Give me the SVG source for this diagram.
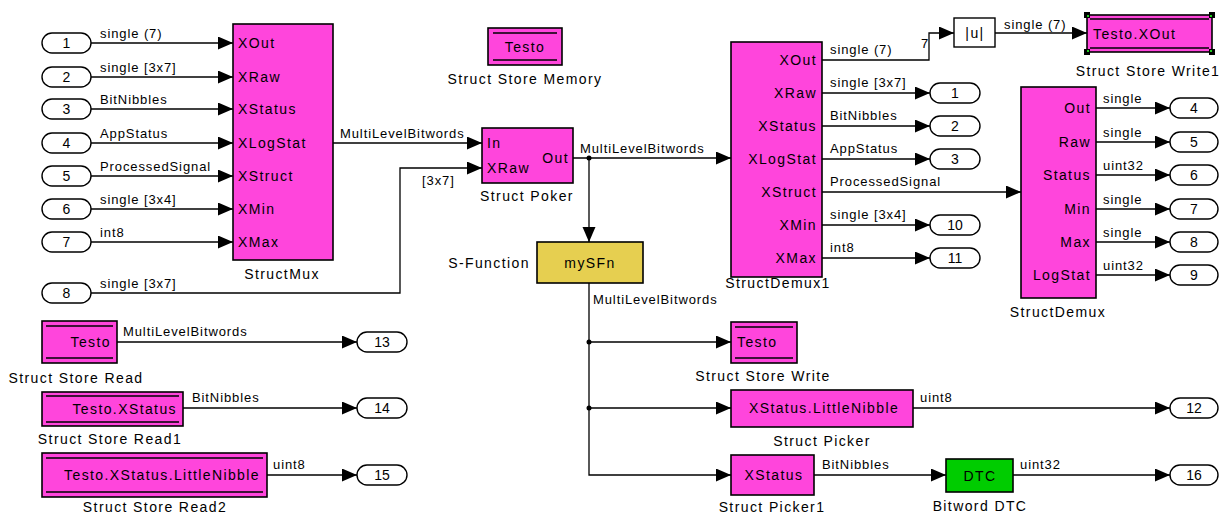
<svg xmlns="http://www.w3.org/2000/svg" width="1220" height="516" viewBox="0 0 1220 516">
<style>
.blk{fill:#ff45dc;stroke:#000;stroke-width:1.6}
.io{fill:#fff;stroke:#000;stroke-width:1.4}
.ln{fill:none;stroke:#000;stroke-width:1.3}
.in{stroke:#000;stroke-width:1.3}
text{font-family:"Liberation Sans",Arial,sans-serif;fill:#000}
.p{font-size:14px;letter-spacing:1.4px}
.l{font-size:14px;letter-spacing:1.4px;text-anchor:middle}
.s{font-size:13px;letter-spacing:0.9px}
.n{font-size:14px;text-anchor:middle}
.r{text-anchor:end}
.c{text-anchor:middle}
</style>
<defs>
<marker id="a" markerUnits="userSpaceOnUse" markerWidth="16" markerHeight="14" refX="15" refY="6.5" orient="auto"><path d="M0,0 L15,6.5 L0,13 z" fill="#000"/></marker>
</defs>

<g id="connectors">
<path class="ln" d="M91,43 H233" marker-end="url(#a)"/>
<path class="ln" d="M91,77 H233" marker-end="url(#a)"/>
<path class="ln" d="M91,109 H233" marker-end="url(#a)"/>
<path class="ln" d="M91,143 H233" marker-end="url(#a)"/>
<path class="ln" d="M91,176 H233" marker-end="url(#a)"/>
<path class="ln" d="M91,209 H233" marker-end="url(#a)"/>
<path class="ln" d="M91,242 H233" marker-end="url(#a)"/>
<path class="ln" d="M91,293 H400 V168 H482" marker-end="url(#a)"/>
<path class="ln" d="M333,143 H482" marker-end="url(#a)"/>
<path class="ln" d="M573,158 H731" marker-end="url(#a)"/>
<path class="ln" d="M589,158 V242" marker-end="url(#a)"/>
<path class="ln" d="M589,283 V475 H731" marker-end="url(#a)"/>
<path class="ln" d="M589,342 H731" marker-end="url(#a)"/>
<path class="ln" d="M589,408 H731" marker-end="url(#a)"/>
<circle cx="589" cy="158" r="2.5"/>
<circle cx="589" cy="342" r="2.5"/>
<circle cx="589" cy="408" r="2.5"/>
<path class="ln" d="M822,60 H929 V33 H954" marker-end="url(#a)"/>
<path class="ln" d="M995,33 H1087" marker-end="url(#a)"/>
<path class="ln" d="M822,93 H930" marker-end="url(#a)"/>
<path class="ln" d="M822,126 H930" marker-end="url(#a)"/>
<path class="ln" d="M822,159 H930" marker-end="url(#a)"/>
<path class="ln" d="M822,192 H1021" marker-end="url(#a)"/>
<path class="ln" d="M822,225 H930" marker-end="url(#a)"/>
<path class="ln" d="M822,258 H930" marker-end="url(#a)"/>
<path class="ln" d="M1096,108 H1170" marker-end="url(#a)"/>
<path class="ln" d="M1096,142 H1170" marker-end="url(#a)"/>
<path class="ln" d="M1096,175 H1170" marker-end="url(#a)"/>
<path class="ln" d="M1096,209 H1170" marker-end="url(#a)"/>
<path class="ln" d="M1096,242 H1170" marker-end="url(#a)"/>
<path class="ln" d="M1096,275 H1170" marker-end="url(#a)"/>
<path class="ln" d="M117,342 H357" marker-end="url(#a)"/>
<path class="ln" d="M183,408 H357" marker-end="url(#a)"/>
<path class="ln" d="M267,475 H357" marker-end="url(#a)"/>
<path class="ln" d="M913,408 H1170" marker-end="url(#a)"/>
<path class="ln" d="M814,475 H946" marker-end="url(#a)"/>
<path class="ln" d="M1013,475 H1170" marker-end="url(#a)"/>
<!-- signal labels -->
<text class="s" x="100" y="38">single (7)</text>
<text class="s" x="100" y="72">single [3x7]</text>
<text class="s" x="100" y="104">BitNibbles</text>
<text class="s" x="100" y="138">AppStatus</text>
<text class="s" x="100" y="171">ProcessedSignal</text>
<text class="s" x="100" y="204">single [3x4]</text>
<text class="s" x="100" y="237">int8</text>
<text class="s" x="100" y="288">single [3x7]</text>
<text class="s" x="422" y="185">[3x7]</text>
<text class="s" x="340" y="138">MultiLevelBitwords</text>
<text class="s" x="580" y="153">MultiLevelBitwords</text>
<text class="s" x="593" y="304">MultiLevelBitwords</text>
<text class="s" x="830" y="54">single (7)</text>
<text class="s" x="921" y="48">7</text>
<text class="s" x="1004" y="29">single (7)</text>
<text class="s" x="830" y="87">single [3x7]</text>
<text class="s" x="830" y="120">BitNibbles</text>
<text class="s" x="830" y="153">AppStatus</text>
<text class="s" x="830" y="186">ProcessedSignal</text>
<text class="s" x="830" y="219">single [3x4]</text>
<text class="s" x="830" y="252">int8</text>
<text class="s" x="1103" y="103">single</text>
<text class="s" x="1103" y="137">single</text>
<text class="s" x="1103" y="170">uint32</text>
<text class="s" x="1103" y="204">single</text>
<text class="s" x="1103" y="237">single</text>
<text class="s" x="1103" y="270">uint32</text>
<text class="s" x="123" y="336">MultiLevelBitwords</text>
<text class="s" x="192" y="402">BitNibbles</text>
<text class="s" x="273" y="469">uint8</text>
<text class="s" x="920" y="402">uint8</text>
<text class="s" x="822" y="469">BitNibbles</text>
<text class="s" x="1020" y="469">uint32</text>
</g>

<g id="in1"><rect class="io" x="42" y="33" width="49" height="20" rx="10"/><text class="n" x="66.5" y="48">1</text></g>
<g id="in2"><rect class="io" x="42" y="67" width="49" height="20" rx="10"/><text class="n" x="66.5" y="82">2</text></g>
<g id="in3"><rect class="io" x="42" y="99" width="49" height="20" rx="10"/><text class="n" x="66.5" y="114">3</text></g>
<g id="in4"><rect class="io" x="42" y="133" width="49" height="20" rx="10"/><text class="n" x="66.5" y="148">4</text></g>
<g id="in5"><rect class="io" x="42" y="166" width="49" height="20" rx="10"/><text class="n" x="66.5" y="181">5</text></g>
<g id="in6"><rect class="io" x="42" y="199" width="49" height="20" rx="10"/><text class="n" x="66.5" y="214">6</text></g>
<g id="in7"><rect class="io" x="42" y="232" width="49" height="20" rx="10"/><text class="n" x="66.5" y="247">7</text></g>
<g id="in8"><rect class="io" x="42" y="283" width="49" height="20" rx="10"/><text class="n" x="66.5" y="298">8</text></g>

<g id="StructMux">
<rect class="blk" x="233" y="24" width="100" height="236"/>
<text class="p" x="238" y="48">XOut</text>
<text class="p" x="238" y="82">XRaw</text>
<text class="p" x="238" y="114">XStatus</text>
<text class="p" x="238" y="148">XLogStat</text>
<text class="p" x="238" y="181">XStruct</text>
<text class="p" x="238" y="214">XMin</text>
<text class="p" x="238" y="247">XMax</text>
<text class="l" x="282" y="279">StructMux</text>
</g>

<g id="StructStoreMemory">
<rect class="blk" x="488" y="28" width="74" height="37"/>
<path class="in" d="M493,33 H557 M493,60 H557"/>
<text class="p c" x="525" y="52">Testo</text>
<text class="l" x="525" y="84">Struct Store Memory</text>
</g>

<g id="StructPoker">
<rect class="blk" x="482" y="128" width="91" height="55"/>
<text class="p" x="487" y="148">In</text>
<text class="p" x="487" y="173">XRaw</text>
<text class="p r" x="569" y="163">Out</text>
<text class="l" x="527" y="201">Struct Poker</text>
</g>

<g id="mySFn">
<rect x="537" y="242" width="106" height="41" fill="#e6cf50" stroke="#000" stroke-width="1.6"/>
<text class="p c" x="590" y="268">mySFn</text>
<text class="l" x="489" y="268">S-Function</text>
</g>

<g id="StructDemux1">
<rect class="blk" x="731" y="42" width="91" height="235"/>
<text class="p r" x="817" y="65">XOut</text>
<text class="p r" x="817" y="98">XRaw</text>
<text class="p r" x="817" y="131">XStatus</text>
<text class="p r" x="817" y="164">XLogStat</text>
<text class="p r" x="817" y="197">XStruct</text>
<text class="p r" x="817" y="230">XMin</text>
<text class="p r" x="817" y="263">XMax</text>
<text class="l" x="778" y="288">StructDemux1</text>
</g>

<g id="abs">
<rect x="954" y="18" width="41" height="29" fill="#fff" stroke="#000" stroke-width="1.4"/>
<text class="p c" x="975" y="38">|u|</text>
</g>

<g id="StructStoreWrite1">
<rect class="blk" x="1087" y="15" width="125" height="37"/>
<path class="in" d="M1090,19 H1209 M1090,48 H1209"/>
<text class="p" x="1093" y="39">Testo.XOut</text>
<g fill="#000"><rect x="1084" y="12" width="6" height="6"/><rect x="1209" y="12" width="6" height="6"/><rect x="1084" y="49" width="6" height="6"/><rect x="1209" y="49" width="6" height="6"/></g>
<g fill="#2c2"><rect x="1087" y="15" width="2" height="2"/><rect x="1210" y="15" width="2" height="2"/><rect x="1087" y="50" width="2" height="2"/><rect x="1210" y="50" width="2" height="2"/></g>
<text class="l" x="1148" y="76">Struct Store Write1</text>
</g>

<g id="out1"><rect class="io" x="930" y="83" width="50" height="20" rx="10"/><text class="n" x="955" y="98">1</text></g>
<g id="out2"><rect class="io" x="930" y="116" width="50" height="20" rx="10"/><text class="n" x="955" y="131">2</text></g>
<g id="out3"><rect class="io" x="930" y="149" width="50" height="20" rx="10"/><text class="n" x="955" y="164">3</text></g>
<g id="out10"><rect class="io" x="930" y="215" width="50" height="20" rx="10"/><text class="n" x="955" y="230">10</text></g>
<g id="out11"><rect class="io" x="930" y="248" width="50" height="20" rx="10"/><text class="n" x="955" y="263">11</text></g>

<g id="StructDemux">
<rect class="blk" x="1021" y="87" width="75" height="211"/>
<text class="p r" x="1091" y="113">Out</text>
<text class="p r" x="1091" y="147">Raw</text>
<text class="p r" x="1091" y="180">Status</text>
<text class="p r" x="1091" y="214">Min</text>
<text class="p r" x="1091" y="247">Max</text>
<text class="p r" x="1091" y="280">LogStat</text>
<text class="l" x="1058" y="317">StructDemux</text>
</g>

<g id="out4"><rect class="io" x="1170" y="98" width="48" height="20" rx="10"/><text class="n" x="1194" y="113">4</text></g>
<g id="out5"><rect class="io" x="1170" y="132" width="48" height="20" rx="10"/><text class="n" x="1194" y="147">5</text></g>
<g id="out6"><rect class="io" x="1170" y="165" width="48" height="20" rx="10"/><text class="n" x="1194" y="180">6</text></g>
<g id="out7"><rect class="io" x="1170" y="199" width="48" height="20" rx="10"/><text class="n" x="1194" y="214">7</text></g>
<g id="out8"><rect class="io" x="1170" y="232" width="48" height="20" rx="10"/><text class="n" x="1194" y="247">8</text></g>
<g id="out9"><rect class="io" x="1170" y="265" width="48" height="20" rx="10"/><text class="n" x="1194" y="280">9</text></g>

<g id="StructStoreRead">
<rect class="blk" x="42" y="321" width="75" height="42"/>
<path class="in" d="M46,326 H113 M46,358 H113"/>
<text class="p r" x="111" y="347">Testo</text>
<text class="l" x="76" y="383">Struct Store Read</text>
</g>
<g id="StructStoreRead1">
<rect class="blk" x="42" y="392" width="141" height="34"/>
<path class="in" d="M46,396 H179 M46,422 H179"/>
<text class="p r" x="177" y="414">Testo.XStatus</text>
<text class="l" x="110" y="444">Struct Store Read1</text>
</g>
<g id="StructStoreRead2">
<rect class="blk" x="42" y="453" width="225" height="44"/>
<path class="in" d="M46,458 H263 M46,492 H263"/>
<text class="p r" x="260" y="480">Testo.XStatus.LittleNibble</text>
<text class="l" x="155" y="512">Struct Store Read2</text>
</g>
<g id="out13"><rect class="io" x="357" y="332" width="50" height="20" rx="10"/><text class="n" x="382" y="347">13</text></g>
<g id="out14"><rect class="io" x="357" y="398" width="50" height="20" rx="10"/><text class="n" x="382" y="413">14</text></g>
<g id="out15"><rect class="io" x="357" y="465" width="50" height="20" rx="10"/><text class="n" x="382" y="480">15</text></g>

<g id="StructStoreWrite">
<rect class="blk" x="731" y="322" width="66" height="41"/>
<path class="in" d="M735,327 H793 M735,358 H793"/>
<text class="p" x="737" y="347">Testo</text>
<text class="l" x="763" y="381">Struct Store Write</text>
</g>
<g id="StructPicker">
<rect class="blk" x="731" y="390" width="182" height="37"/>
<text class="p c" x="824" y="413">XStatus.LittleNibble</text>
<text class="l" x="822" y="446">Struct Picker</text>
</g>
<g id="StructPicker1">
<rect class="blk" x="731" y="455" width="83" height="40"/>
<text class="p c" x="774" y="480">XStatus</text>
<text class="l" x="772" y="512">Struct Picker1</text>
</g>
<g id="BitwordDTC">
<rect x="946" y="459" width="67" height="33" fill="#00cc00" stroke="#000" stroke-width="1.6"/>
<text class="p c" x="980" y="481">DTC</text>
<text class="l" x="980" y="511">Bitword DTC</text>
</g>
<g id="out12"><rect class="io" x="1170" y="398" width="48" height="20" rx="10"/><text class="n" x="1194" y="413">12</text></g>
<g id="out16"><rect class="io" x="1170" y="465" width="48" height="20" rx="10"/><text class="n" x="1194" y="480">16</text></g>
</svg>
